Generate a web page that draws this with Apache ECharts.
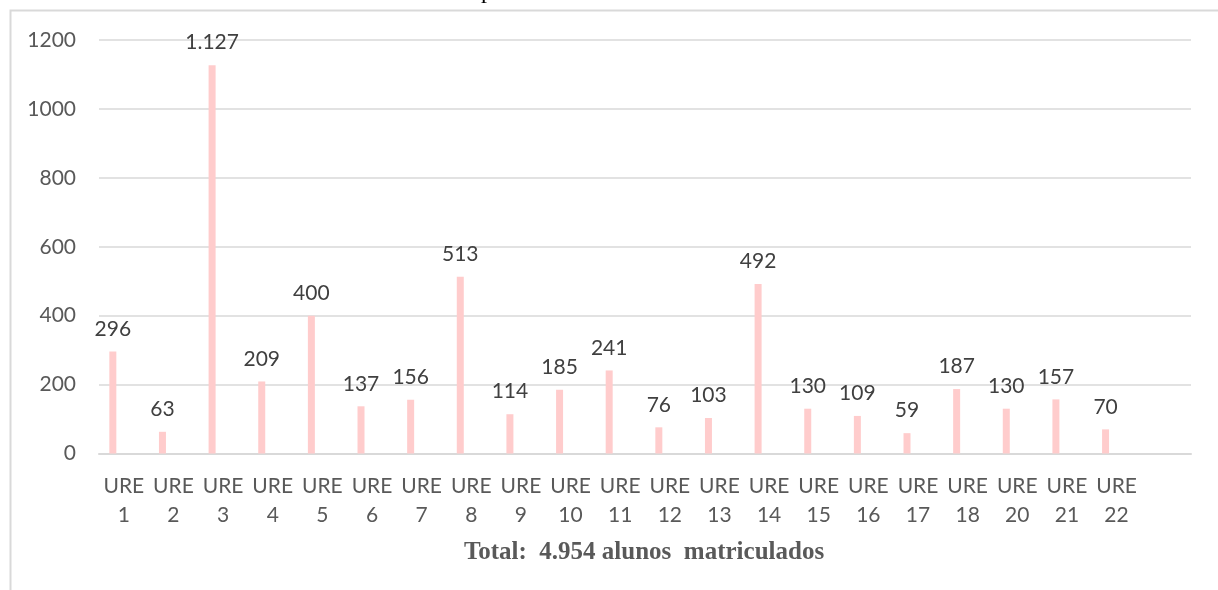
<!DOCTYPE html>
<html>
<head>
<meta charset="utf-8">
<title>Alunos matriculados por URE</title>
<script src="https://cdn.jsdelivr.net/npm/echarts@6/dist/echarts.min.js"></script>
<style>
  html, body { margin: 0; padding: 0; background: #ffffff; }
  #chart { width: 1218px; height: 590px; }
</style>
</head>
<body>
<div id="chart"></div>
<script>
// Regional units (the last slot is left empty)
const categories = ['URE\n1', 'URE\n2', 'URE\n3', 'URE\n4', 'URE\n5', 'URE\n6', 'URE\n7',
  'URE\n8', 'URE\n9', 'URE\n10', 'URE\n11', 'URE\n12', 'URE\n13', 'URE\n14', 'URE\n15',
  'URE\n16', 'URE\n17', 'URE\n18', 'URE\n20', 'URE\n21', 'URE\n22', ''];

// Enrolled students per unit
const alunos = [296, 63, 1127, 209, 400, 137, 156, 513, 114, 185, 241, 76, 103, 492,
  130, 109, 59, 187, 130, 157, 70, null];

// Empty companion series (keeps bars shifted left within each slot)
const vazio = categories.map(() => null);

const yTicks = { min: 0, max: 1200, interval: 200 };
const totalText = 'Total:  4.954 alunos  matriculados';

const textColor = '#595959';
const gridColor = '#d9d9d9';
const sansFont = 'Lato, "Open Sans", sans-serif';

// pt-BR thousands separator
const fmt = v => String(v).replace(/\B(?=(\d{3})+(?!\d))/g, '.');

const chart = echarts.init(document.getElementById('chart'), null, { renderer: 'canvas' });

chart.setOption({
  backgroundColor: '#ffffff',
  animation: false,
  grid: { left: 99, right: 27, top: 40, bottom: 136.5, containLabel: false },
  xAxis: {
    type: 'category',
    data: categories,
    axisLine: { lineStyle: { color: gridColor, width: 2 } },
    axisTick: { show: false },
    axisLabel: {
      color: textColor,
      fontFamily: sansFont,
      fontSize: 21,
      lineHeight: 29,
      margin: 18,
      interval: 0
    }
  },
  yAxis: {
    type: 'value',
    min: yTicks.min,
    max: yTicks.max,
    interval: yTicks.interval,
    axisLine: { show: false },
    axisTick: { show: false },
    splitLine: { lineStyle: { color: gridColor, width: 1.5 } },
    axisLabel: {
      color: textColor,
      fontFamily: sansFont,
      fontSize: 21,
      margin: 23,
      formatter: v => String(v)
    }
  },
  series: [
    {
      type: 'bar',
      data: alunos,
      barWidth: 7,
      barGap: '214%',
      itemStyle: { color: '#ffcccc' },
      label: {
        show: true,
        position: 'top',
        distance: 12,
        color: '#404040',
        fontFamily: sansFont,
        fontSize: 21,
        formatter: p => (p.value == null ? '' : fmt(p.value))
      }
    },
    {
      type: 'bar',
      data: vazio,
      barWidth: 7,
      itemStyle: { color: '#ffcccc' }
    }
  ],
  graphic: [
    {
      type: 'rect',
      silent: true,
      shape: { x: 10.5, y: 10.5, width: 1400, height: 800 },
      style: { fill: 'none', stroke: gridColor, lineWidth: 2 }
    },
    {
      type: 'text',
      silent: true,
      x: 644,
      y: 553,
      style: {
        text: totalText,
        fill: textColor,
        font: 'bold 25px "Liberation Serif", "Times New Roman", serif',
        textAlign: 'center',
        textVerticalAlign: 'middle'
      }
    },
    {
      type: 'text',
      silent: true,
      x: 481,
      y: -20,
      style: {
        text: 'p',
        fill: '#000000',
        font: '24px "Liberation Serif", "Times New Roman", serif'
      }
    }
  ]
});
</script>
</body>
</html>
